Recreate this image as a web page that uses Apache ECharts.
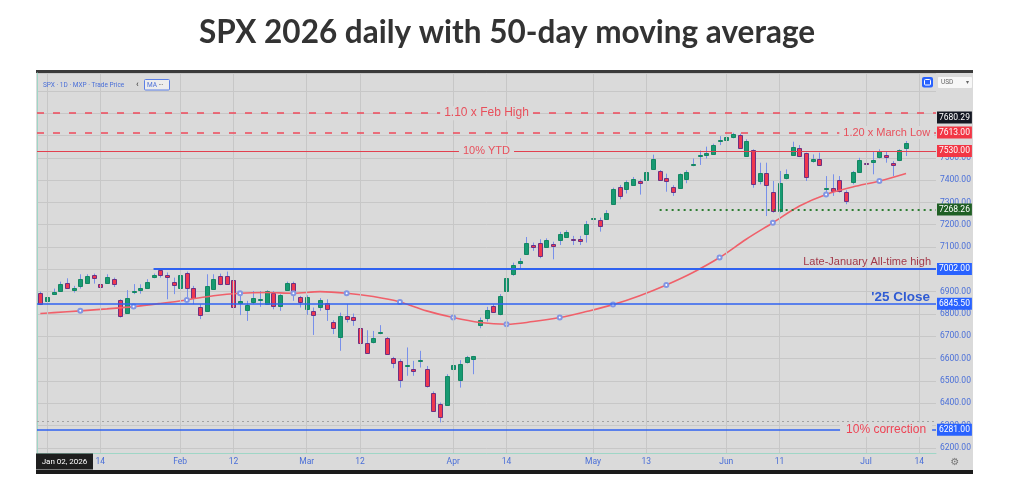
<!DOCTYPE html>
<html>
<head>
<meta charset="utf-8">
<script src="https://cdn.jsdelivr.net/npm/echarts@6/dist/echarts.min.js"></script>
<style>
  html, body { margin: 0; padding: 0; background: #fff; }
  #shot { position: absolute; left: 36px; top: 70px; width: 937px; height: 404px; background: #dadada; }
  #topbar { position: absolute; left: 36px; top: 70px; width: 937px; height: 3px; background: #3a3a3a; }
  #botbar { position: absolute; left: 36px; top: 470px; width: 937px; height: 4px; background: #1b1b1b; }
  #chart { position: absolute; left: 0; top: 0; width: 1026px; height: 499px; }
</style>
</head>
<body>
<div id="shot"></div>
<div id="topbar"></div>
<div id="botbar"></div>
<div id="chart"></div>
<script>
const chartTitle = "SPX 2026 daily with 50-day moving average";

// trading sessions shown on the axis (Dec 31 2025 .. Jul 16 2026)
const sessions = [
  ["2025-12", [31]],
  ["2026-01", [2, 5, 6, 7, 8, 9, 12, 13, 14, 15, 16, 20, 21, 22, 23, 26, 27, 28, 29, 30]],
  ["2026-02", [2, 3, 4, 5, 6, 9, 10, 11, 12, 13, 17, 18, 19, 20, 23, 24, 25, 26, 27]],
  ["2026-03", [2, 3, 4, 5, 6, 9, 10, 11, 12, 13, 16, 17, 18, 19, 20, 23, 24, 25, 26, 27, 30, 31]],
  ["2026-04", [1, 2, 6, 7, 8, 9, 10, 13, 14, 15, 16, 17, 20, 21, 22, 23, 24, 27, 28, 29, 30]],
  ["2026-05", [1, 4, 5, 6, 7, 8, 11, 12, 13, 14, 15, 18, 19, 20, 21, 22, 26, 27, 28, 29]],
  ["2026-06", [1, 2, 3, 4, 5, 8, 9, 10, 11, 12, 15, 16, 17, 18, 22, 23, 24, 25, 26, 29, 30]],
  ["2026-07", [1, 2, 6, 7, 8, 9, 10, 13, 14, 15, 16]]
];
const dates = sessions.flatMap(([m, ds]) => ds.map(d => m + "-" + String(d).padStart(2, "0")));

const firstSession = "2026-01-02";
const dateTickLabels = {
  "2026-01-14": "14", "2026-02-02": "Feb", "2026-02-12": "12", "2026-03-02": "Mar",
  "2026-03-12": "12", "2026-04-01": "Apr", "2026-04-14": "14", "2026-05-01": "May",
  "2026-05-13": "13", "2026-06-01": "Jun", "2026-06-11": "11", "2026-07-01": "Jul",
  "2026-07-14": "14"
};

// daily OHLC, Dec 31 2025 .. Jul 10 2026
const candleOpen = [
  6896, 6856, 6889, 6906, 6941, 6911, 6926, 6941, 6974, 6933,
  6941, 6956, 6862, 6806, 6900, 6911, 6918, 6963, 6998, 6973,
  6945, 6915, 6983, 6918, 6832, 6814, 6914, 6971, 6971, 6951,
  6850, 6817, 6854, 6866, 6844, 6896, 6836, 6911, 6941, 6874,
  6821, 6814, 6829, 6851, 6765, 6697, 6791, 6787, 6735, 6672,
  6672, 6712, 6692, 6602, 6590, 6568, 6552, 6587, 6552, 6448,
  6396, 6393, 6552, 6508, 6582, 6599, 6751, 6780, 6836, 6802,
  6906, 6978, 7030, 7072, 7111, 7120, 7100, 7115, 7132, 7147,
  7138, 7135, 7157, 7224, 7223, 7229, 7292, 7371, 7362, 7381,
  7396, 7403, 7450, 7441, 7411, 7371, 7364, 7407, 7466, 7506,
  7515, 7516, 7575, 7578, 7590, 7602, 7512, 7533, 7399, 7433,
  7347, 7262, 7406, 7511, 7542, 7520, 7486, 7493, 7358, 7366,
  7399, 7348, 7389, 7436, 7478, 7481, 7503, 7511, 7478, 7488,
  7545
];
const candleClose = [
  6845.5, 6874, 6899, 6936, 6918, 6918, 6959, 6971, 6959, 6921,
  6966, 6933, 6792, 6871, 6905, 6918, 6945, 6973, 6974, 6963,
  6933, 6973, 6914, 6874, 6795, 6926, 6959, 6936, 6936, 6829,
  6860, 6839, 6873, 6868, 6903, 6836, 6884, 6941, 6903, 6851,
  6877, 6795, 6862, 6824, 6736, 6791, 6777, 6772, 6668, 6627,
  6692, 6718, 6620, 6578, 6503, 6573, 6545, 6593, 6474, 6366,
  6339, 6523, 6571, 6578, 6605, 6611, 6773, 6818, 6811, 6881,
  6963, 7018, 7038, 7120, 7102, 7060, 7132, 7105, 7157, 7168,
  7132, 7127, 7202, 7230, 7195, 7254, 7359, 7332, 7393, 7406,
  7389, 7437, 7493, 7400, 7399, 7348, 7426, 7438, 7471, 7512,
  7522, 7557, 7579, 7593, 7605, 7545, 7577, 7381, 7433, 7381,
  7262, 7389, 7426, 7548, 7505, 7414, 7493, 7466, 7363, 7351,
  7348, 7306, 7436, 7490, 7474, 7488, 7530, 7500, 7471, 7535,
  7568
];
const candleLow = [
  6840, 6821, 6885, 6903, 6915, 6896, 6914, 6936, 6936, 6881,
  6936, 6921, 6784, 6802, 6889, 6891, 6915, 6960, 6963, 6866,
  6889, 6911, 6874, 6844, 6777, 6811, 6911, 6929, 6933, 6824,
  6795, 6769, 6844, 6832, 6841, 6821, 6814, 6906, 6859, 6829,
  6796, 6706, 6814, 6769, 6710, 6635, 6762, 6747, 6665, 6623,
  6668, 6709, 6617, 6557, 6470, 6523, 6523, 6560, 6470, 6363,
  6314, 6388, 6548, 6470, 6578, 6530, 6736, 6766, 6806, 6794,
  6903, 6971, 7000, 7068, 7083, 7050, 7097, 7045, 7109, 7145,
  7109, 7109, 7120, 7221, 7169, 7224, 7289, 7314, 7340, 7378,
  7335, 7400, 7446, 7396, 7348, 7329, 7362, 7386, 7462, 7468,
  7497, 7513, 7557, 7575, 7587, 7542, 7508, 7366, 7381, 7239,
  7254, 7254, 7403, 7508, 7503, 7396, 7478, 7463, 7333, 7329,
  7344, 7292, 7381, 7433, 7441, 7426, 7497, 7478, 7418, 7485,
  7508
];
const candleHigh = [
  6900, 6896, 6914, 6945, 6960, 6926, 6978, 6978, 6981, 6941,
  6978, 6963, 6866, 6907, 6934, 6933, 6956, 6981, 7002, 6986,
  6963, 6981, 6990, 6926, 6844, 6978, 6978, 6981, 6990, 6971,
  6890, 6859, 6903, 6903, 6907, 6903, 6889, 6945, 6945, 6881,
  6884, 6829, 6871, 6866, 6772, 6806, 6844, 6802, 6739, 6727,
  6724, 6750, 6697, 6608, 6597, 6650, 6590, 6635, 6567, 6453,
  6403, 6530, 6605, 6593, 6612, 6612, 6784, 6832, 6844, 6889,
  6971, 7030, 7050, 7145, 7120, 7135, 7139, 7124, 7168, 7175,
  7150, 7150, 7217, 7265, 7232, 7265, 7366, 7378, 7399, 7414,
  7403, 7450, 7514, 7445, 7429, 7377, 7430, 7444, 7497, 7533,
  7550, 7563, 7597, 7605, 7612, 7608, 7583, 7538, 7478, 7478,
  7396, 7441, 7448, 7572, 7557, 7523, 7515, 7523, 7418, 7426,
  7418, 7354, 7441, 7500, 7508, 7530, 7538, 7530, 7485, 7538,
  7575
];

// 50-day moving average, read every 4 sessions (session index, value)
const maIndex = [0, 2, 6, 10, 14, 18, 22, 26, 30, 34, 38, 42, 46, 50, 54, 58, 62,
  66, 70, 74, 78, 82, 86, 90, 94, 98, 102, 106, 110, 114, 118, 122, 126, 130];
const maValue = [6802, 6806, 6814, 6823, 6833, 6847, 6863, 6882, 6893, 6896, 6893, 6900,
  6893, 6878, 6854, 6814, 6784, 6762, 6754, 6766, 6784, 6811, 6842, 6882, 6930, 6986,
  7053, 7135, 7209, 7284, 7336, 7369, 7396, 7430];

// horizontal levels
const febHighLine = 7700;      // where the dashed line sits
const febHighPrice = 7680.29;  // its price tag
const marchLowPrice = 7613;
const ytdPrice = 7530;
const swingLowPrice = 7268.26;
const janHighPrice = 7002;
const close25Price = 6845.5;
const correctionPrice = 6281;
const grayLinePrice = 6319;
const swingLowStart = 93.5;   // session position where the dotted line starts
const janHighStart = 17.5;

const hiddenPriceTicks = [7000, 7600, 7700, 7800];

const UP = "#179a72", UP_B = "#158663", DOWN = "#f0374f", DOWN_B = "#6c3182", WICK = "#7890ea";
const AXIS_TXT = "#4a6fd8", GRID = "#c7c7c7", BG = "#dadada";
const CLEAR = "rgba(0,0,0,0)";

const chart = echarts.init(document.getElementById("chart"), null, { renderer: "canvas" });

function renderCandle(params, api) {
  const k = api.value(0);
  const o = api.value(1), c = api.value(2), l = api.value(3), h = api.value(4);
  const pO = api.coord([k, o]);
  const x = Math.round(pO[0]) + 0.5;
  const yO = pO[1], yC = api.coord([k, c])[1];
  const yH = api.coord([k, h])[1], yL = api.coord([k, l])[1];
  const up = c >= o;
  const top = Math.round(Math.min(yO, yC)) + 0.5;
  const bh = Math.max(1, Math.round(Math.abs(yC - yO)));
  return {
    type: "group",
    children: [
      { type: "line", shape: { x1: x, y1: yH, x2: x, y2: yL }, style: { stroke: WICK, lineWidth: 1 } },
      { type: "rect", shape: { x: x - 2, y: top, width: 4, height: bh },
        style: { fill: up ? UP : DOWN, stroke: up ? UP_B : DOWN_B, lineWidth: 1 } }
    ]
  };
}

function priceTag(text, bg) {
  return {
    show: true, position: "end", distance: 1, formatter: text,
    backgroundColor: bg, color: "#fff", fontSize: 8.5, fontFamily: "Roboto",
    padding: [2, 2, 1, 2]
  };
}
// text that sits on the line, masking it
function onLineText(text, color, size, pad) {
  const boxH = size + 2;
  return {
    show: true, position: "middle", distance: [0, -boxH / 2], formatter: text, color: color,
    fontSize: size, lineHeight: size, fontFamily: "Liberation Sans",
    backgroundColor: BG, padding: [1, pad]
  };
}
const hidden = { color: CLEAR, width: 0.1 };
const noLabel = { show: false };

const gridLines = dates
  .map((d, k) => (d in dateTickLabels || d === firstSession) ? { xAxis: k + 0.5 } : null)
  .filter(Boolean);

const option = {
  animation: false,
  grid: { left: 37, top: 73, width: 899, height: 380, containLabel: false },
  xAxis: [
    {
      type: "category", data: dates, boundaryGap: true,
      axisLine: { show: true, lineStyle: { color: "#9fd6c6" } },
      axisTick: { show: false },
      axisLabel: {
        interval: (i, v) => v in dateTickLabels,
        formatter: v => dateTickLabels[v] || "",
        color: AXIS_TXT, fontSize: 8.5, fontFamily: "Roboto", margin: 4
      },
      splitLine: { show: false }
    },
    { type: "value", min: 0, max: dates.length, show: false }
  ],
  yAxis: {
    type: "value", position: "right", min: 6177, max: 7880,
    splitNumber: 17, minInterval: 100, maxInterval: 100,
    axisLine: { show: true, lineStyle: { color: "#9fd6c6" } },
    axisTick: { show: false },
    axisLabel: {
      color: AXIS_TXT, fontSize: 8.5, fontFamily: "Roboto", margin: 4,
      showMinLabel: false, showMaxLabel: false,
      formatter: v => (v % 100 === 0 && !hiddenPriceTicks.includes(v)) ? v.toFixed(2) : ""
    },
    splitLine: { show: true, lineStyle: { color: GRID } }
  },
  series: [
    {
      name: "grid", type: "line", xAxisIndex: 1, data: [], z: 1, silent: true,
      markLine: {
        symbol: ["none", "none"], silent: true, animation: false,
        label: noLabel, lineStyle: { color: GRID, type: "solid", width: 1 },
        data: gridLines
      }
    },
    {
      name: "SPX", type: "custom", xAxisIndex: 0, z: 2,
      renderItem: renderCandle,
      encode: { x: 0, y: [1, 2, 3, 4] },
      data: candleOpen.map((o, k) => [k, o, candleClose[k], candleLow[k], candleHigh[k]])
    },
    {
      name: "levels", type: "line", xAxisIndex: 1, data: [], z: 3, silent: true,
      markLine: {
        symbol: ["none", "none"], silent: true, animation: false, label: noLabel,
        data: [
          { yAxis: grayLinePrice, lineStyle: { color: "#a2a2a2", type: [2, 3], width: 1 } },
          { yAxis: febHighLine, lineStyle: { color: "#ef4a5b", type: [7, 9], width: 1.5 } },
          { yAxis: febHighPrice, lineStyle: hidden, label: priceTag("7680.29", "#131722") },
          { yAxis: marchLowPrice, lineStyle: { color: "#ef4a5b", type: [7, 9], width: 1.5 },
            label: priceTag("7613.00", "#f23645") },
          { yAxis: ytdPrice, lineStyle: { color: "#e2404f", type: "solid", width: 1 },
            label: priceTag("7530.00", "#f23645") },
          [{ coord: [swingLowStart, swingLowPrice],
             lineStyle: { color: "#2e7d32", type: [2, 4], width: 2 },
             label: priceTag("7268.26", "#1f5f24") },
           { coord: [dates.length, swingLowPrice] }],
          [{ coord: [janHighStart, janHighPrice],
             lineStyle: { color: "#2f62f0", type: "solid", width: 2 },
             label: priceTag("7002.00", "#2962ff") },
           { coord: [dates.length, janHighPrice] }],
          { yAxis: close25Price, lineStyle: { color: "#2f62f0", type: "solid", width: 1.5 },
            label: priceTag("6845.50", "#2962ff") },
          { yAxis: correctionPrice, lineStyle: { color: "#2f62f0", type: "solid", width: 1.5 },
            label: priceTag("6281.00", "#2962ff") },
          // texts on top of the lines
          { yAxis: febHighLine, lineStyle: hidden, label: onLineText("1.10 x Feb High", "#e8505c", 12, 4) },
          { yAxis: ytdPrice, lineStyle: hidden, label: onLineText("10% YTD", "#e8505c", 11, 4) },
          [{ coord: [121, marchLowPrice], lineStyle: hidden,
             label: onLineText("1.20 x March Low", "#e8505c", 11, 4) },
           { coord: [134.2, marchLowPrice] }],
          [{ coord: [120.6, correctionPrice], lineStyle: hidden,
             label: onLineText("10% correction", "#ee4455", 12, 6) },
           { coord: [134.4, correctionPrice] }],
          [{ coord: [60, janHighPrice], lineStyle: hidden,
             label: { show: true, position: "insideEndTop", distance: [5, 1],
                      formatter: "Late-January All-time high", color: "#a33a4a",
                      fontSize: 11, fontFamily: "Liberation Sans" } },
           { coord: [dates.length, janHighPrice] }],
          [{ coord: [60, close25Price], lineStyle: hidden,
             label: { show: true, position: "insideEndTop", distance: [6, 0],
                      formatter: "'25 Close", color: "#2f5bd3", fontWeight: "bold",
                      fontSize: 13.5, fontFamily: "Liberation Sans" } },
           { coord: [dates.length, close25Price] }]
        ]
      }
    },
    {
      name: "MA 50", type: "line", xAxisIndex: 0, z: 4,
      data: maIndex.map((k, j) => [k, maValue[j]]),
      smooth: 0.35,
      showSymbol: true, showAllSymbol: true,
      symbol: v => (v[0] % 8 === 6 ? "emptyCircle" : "none"),
      symbolSize: 4,
      itemStyle: { color: "#8196e4", borderWidth: 1 },
      lineStyle: { color: "#f0606a", width: 1.6 }
    }
  ],
  graphic: [
    { type: "text", x: 507, y: 33, z: 10,
      style: { text: chartTitle, font: "bold 31.5px Lato", fill: "#333", align: "center", verticalAlign: "middle" } },
    { type: "text", x: 43, y: 85, z: 10,
      style: { text: "SPX · 1D · MXP · Trade Price", font: "6.5px Roboto", fill: AXIS_TXT, verticalAlign: "middle" } },
    { type: "text", x: 136, y: 85, z: 10,
      style: { text: "‹", font: "9px Roboto", fill: "#333", verticalAlign: "middle" } },
    { type: "rect", z: 10, shape: { x: 144.5, y: 79.5, width: 25, height: 10.5, r: 1 },
      style: { fill: "#ededed", stroke: "#5b7fe6", lineWidth: 1 } },
    { type: "text", x: 147, y: 85, z: 11,
      style: { text: "MA", font: "6.5px Roboto", fill: AXIS_TXT, verticalAlign: "middle" } },
    { type: "text", x: 159, y: 84.5, z: 11,
      style: { text: "•••", font: "4px Roboto", fill: "#555", verticalAlign: "middle" } },
    { type: "rect", z: 10, shape: { x: 922, y: 77, width: 11, height: 10.5, r: 2 },
      style: { fill: "#2962ff" } },
    { type: "rect", z: 11, shape: { x: 924.5, y: 79.5, width: 6, height: 5.5, r: 1 },
      style: { fill: "none", stroke: "#fff", lineWidth: 1 } },
    { type: "rect", z: 10, shape: { x: 938, y: 77, width: 34, height: 11, r: 1 },
      style: { fill: "#f7f7f7" } },
    { type: "text", x: 941, y: 82.5, z: 11,
      style: { text: "USD", font: "6.5px Roboto", fill: "#666", verticalAlign: "middle" } },
    { type: "text", x: 966, y: 82.5, z: 11,
      style: { text: "▾", font: "6px DejaVu Sans", fill: "#666", verticalAlign: "middle" } },
    { type: "rect", z: 10, shape: { x: 36, y: 453.5, width: 57, height: 16 },
      style: { fill: "#1e1e1e" } },
    { type: "text", x: 64.5, y: 461.5, z: 11,
      style: { text: "Jan 02, 2026", font: "8px Roboto", fill: "#fff", align: "center", verticalAlign: "middle" } },
    { type: "text", x: 955, y: 462, z: 10,
      style: { text: "⚙", font: "10px DejaVu Sans", fill: "#777", align: "center", verticalAlign: "middle" } }
  ]
};

chart.setOption(option);
</script>
</body>
</html>
